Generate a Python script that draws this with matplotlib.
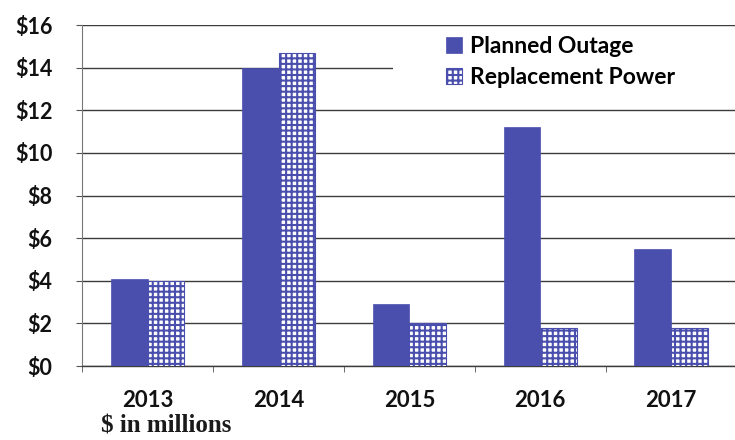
import matplotlib
matplotlib.use('Agg')
import matplotlib.pyplot as plt
from matplotlib.patches import Rectangle
import numpy as np

years = ['2013', '2014', '2015', '2016', '2017']
planned_outage = [4.1, 14.0, 2.9, 11.2, 5.5]
replacement_power = [4.0, 14.7, 2.0, 1.8, 1.8]
y_ticks = [0, 2, 4, 6, 8, 10, 12, 14, 16]

blue = '#4a4fad'
plt.rcParams['hatch.linewidth'] = 1.5
plt.rcParams['hatch.color'] = blue

fig = plt.figure(figsize=(7.35, 4.4), dpi=100)
ax = fig.add_axes([0.112, 0.168, 0.89, 0.775])

x = np.arange(len(years))
w = 0.28
ax.bar(x - w / 2, planned_outage, w, color=blue, edgecolor=blue, linewidth=0.5,
       label='Planned Outage', zorder=3)
ax.bar(x + w / 2, replacement_power, w, color='white', edgecolor=blue, linewidth=0.8,
       hatch='+++', label='Replacement Power', zorder=3)

ax.set_xlim(-0.5, len(years) - 0.5)
ax.set_ylim(0, 16)
ax.set_yticks(y_ticks)
ax.set_yticklabels([f'${v}' for v in y_ticks])
ax.set_xticks(x)
ax.set_xticklabels(years)
ax.set_xticks(np.arange(len(years)) - 0.5, minor=True)

ax.yaxis.grid(True, color='#3c3c3c', linewidth=1.0, zorder=0)
ax.set_axisbelow(True)
for s in ['top', 'right']:
    ax.spines[s].set_visible(False)
ax.spines['left'].set_color('#777777')
ax.spines['bottom'].set_color('#3c3c3c')
ax.spines['bottom'].set_linewidth(1.0)

for lab in ax.get_yticklabels():
    lab.set_fontfamily('Lato')
    lab.set_fontweight('bold')
    lab.set_fontsize(15.5)
    lab.set_color('#111111')
for lab in ax.get_xticklabels():
    lab.set_fontfamily('Lato')
    lab.set_fontweight('bold')
    lab.set_fontsize(16)
    lab.set_color('#111111')
ax.tick_params(axis='x', which='major', length=0, pad=17)
ax.tick_params(axis='x', which='minor', length=4, color='#555555')
ax.tick_params(axis='y', length=4.5, color='#555555', pad=17)

# white box behind legend (hides the $14 gridline, as in the original)
ax.add_patch(Rectangle((0.475, 0.78), 0.53, 0.2, transform=ax.transAxes,
                       facecolor='white', edgecolor='none', zorder=1))

fig.text(0.226, 0.006, '$ in millions', family='Liberation Serif', weight='bold',
         size=18, ha='center', va='bottom', color='#1a1a1a')

ax.legend(loc='upper left', bbox_to_anchor=(0.553, 0.975), frameon=False,
          prop=dict(family='Lato', weight='bold', size=16.5),
          handlelength=0.7, handleheight=0.7, handletextpad=0.35,
          labelspacing=0.45, borderpad=0.1, borderaxespad=0)

fig.savefig('out.png', dpi=100)
plt.close(fig)
